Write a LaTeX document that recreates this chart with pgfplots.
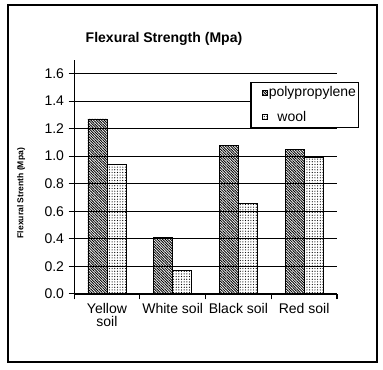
\documentclass[border=0pt]{standalone}
\usepackage{fontspec}
\setmainfont{Liberation Sans}
\usepackage{pgfplots}
\pgfplotsset{compat=1.18}
\usetikzlibrary{patterns.meta}
\begin{document}
\begin{tikzpicture}
\begin{axis}[
  scale only axis, width=197pt, height=175.5pt,
  xmin=-0.5, xmax=3.5, ymin=0, ymax=1.7,
  ybar=0pt, bar width=14.25pt,
  axis x line*=bottom, axis y line*=left,
  axis line style={line width=0.8pt, -},
  font=\fontsize{10.5}{12}\selectfont,
  ytick={0,0.2,0.4,0.6,0.8,1.0,1.2,1.4,1.6},
  yticklabel style={/pgf/number format/.cd, fixed, fixed zerofill, precision=1, assume math mode=true},
  ymajorgrids, grid style={black, line width=0.6pt},
  tick align=outside, major tick length=4pt,
  tick style={black, line width=0.8pt},
  xtick={-0.5,0.5,1.5,2.5,3.5}, xticklabels={},
  extra x ticks={0,1,2,3},
  extra x tick labels={{Yellow\\soil},{White soil},{Black soil},{Red soil}},
  extra x tick style={major tick length=0pt, xticklabel style={align=center, inner sep=1pt, yshift=-6pt, font=\fontsize{10.5}{9.8}\selectfont}},
  title={\bfseries Flexural Strength (Mpa)},
  title style={at={(axis description cs:0.342,1)}, anchor=base, yshift=6.75pt},
  ylabel={\bfseries\fontsize{6.4}{7}\selectfont Flexural Strenth (Mpa)},
  ylabel style={at={(axis description cs:-0.2015,0.43)}, anchor=center},
  legend style={at={(axis description cs:1.0837,0.906)}, anchor=north east,
    draw=black, line width=0.8pt, inner xsep=1pt, inner ysep=2.5pt, row sep=7.5pt,
    nodes={inner sep=0.8pt},
    font=\fontsize{10.5}{12}\selectfont, cells={anchor=west}},
  legend image code/.code={\path (-7pt,0pt); \draw[#1, line width=0.5pt] (0pt,-2pt) rectangle (4pt,2pt);},
  clip=false,
]
\addplot[draw=black, line width=0.6pt, pattern={Lines[angle=-45, distance=1.4pt, line width=0.65pt]}]
  coordinates {(0,1.27) (1,0.41) (2,1.08) (3,1.05)};
\addplot[draw=black, line width=0.6pt, pattern={Dots[radius=0.45pt, distance=2pt]}]
  coordinates {(0,0.94) (1,0.17) (2,0.66) (3,0.99)};
\legend{polypropylene,{\hspace*{6.5pt}wool}}
\coordinate (sw) at (rel axis cs:0,0);
\coordinate (ne) at (rel axis cs:1,1);
\end{axis}
\draw[line width=0.8pt] ([shift={(-49.5pt,-51pt)}]sw) rectangle ([shift={(30pt,41pt)}]ne);
\path ([shift={(-55.5pt,-57pt)}]sw) rectangle ([shift={(34.5pt,44.75pt)}]ne);
\end{tikzpicture}
\end{document}
